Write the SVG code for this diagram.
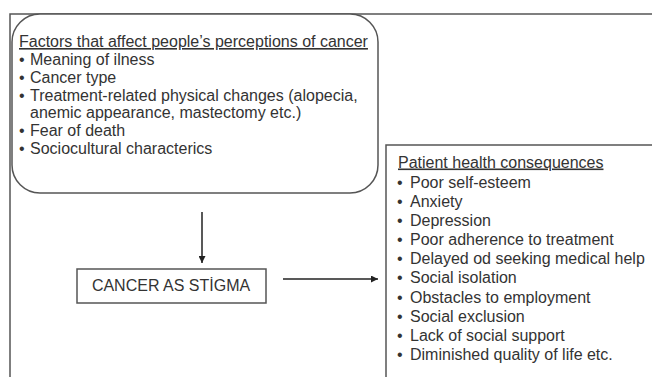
<svg xmlns="http://www.w3.org/2000/svg" width="652" height="377" viewBox="0 0 652 377">
  <style>
    .frame { fill: none; stroke: #555; stroke-width: 1.5; }
    .box { fill: #fff; stroke: #555; stroke-width: 1.5; }
    .txt { font-family: "Liberation Sans", Arial, sans-serif; font-size: 16px; fill: #333; }
    .head { text-decoration: underline; }
    .conn { stroke: #222; stroke-width: 1.5; fill: none; }
  </style>
  <defs>
    <marker id="arrow" viewBox="0 0 10 10" refX="10" refY="5" markerWidth="7" markerHeight="7" markerUnits="userSpaceOnUse" orient="auto">
      <path d="M0,0 L10,5 L0,10 z" fill="#222"/>
    </marker>
  </defs>
  <rect width="652" height="377" fill="#fff"/>

  <!-- outer frame (continues past the page edges) -->
  <path class="frame" d="M10,377 V14 H652"/>

  <g id="factors">
    <rect class="box" x="12" y="14" width="366" height="179" rx="28" ry="28"/>
    <text class="txt head" x="19" y="47">Factors that affect people’s perceptions of cancer</text>
    <g class="txt">
      <text x="19" y="65">•</text><text x="30" y="65">Meaning of ilness</text>
      <text x="19" y="83">•</text><text x="30" y="83">Cancer type</text>
      <text x="19" y="100.5">•</text><text x="30" y="100.5">Treatment-related physical changes (alopecia,</text>
      <text x="30" y="118">anemic appearance, mastectomy etc.)</text>
      <text x="19" y="136">•</text><text x="30" y="136">Fear of death</text>
      <text x="19" y="153.5">•</text><text x="30" y="153.5">Sociocultural characterics</text>
    </g>
  </g>

  <g id="stigma">
    <rect class="box" x="77" y="269" width="189" height="34"/>
    <text class="txt" x="171" y="291" text-anchor="middle">CANCER AS STİGMA</text>
  </g>

  <g id="consequences">
    <path class="box" d="M386,377 V145 H652"/>
    <text class="txt head" x="398" y="167.5">Patient health consequences</text>
    <g class="txt">
      <text x="397" y="187.5">•</text><text x="410" y="187.5">Poor self-esteem</text>
      <text x="397" y="206.7">•</text><text x="410" y="206.7">Anxiety</text>
      <text x="397" y="225.8">•</text><text x="410" y="225.8">Depression</text>
      <text x="397" y="245">•</text><text x="410" y="245">Poor adherence to treatment</text>
      <text x="397" y="264.2">•</text><text x="410" y="264.2">Delayed od seeking medical help</text>
      <text x="397" y="283.3">•</text><text x="410" y="283.3">Social isolation</text>
      <text x="397" y="302.5">•</text><text x="410" y="302.5">Obstacles to employment</text>
      <text x="397" y="321.7">•</text><text x="410" y="321.7">Social exclusion</text>
      <text x="397" y="340.8">•</text><text x="410" y="340.8">Lack of social support</text>
      <text x="397" y="360">•</text><text x="410" y="360">Diminished quality of life etc.</text>
    </g>
  </g>

  <g id="connectors">
    <line class="conn" x1="202" y1="212" x2="202" y2="263" marker-end="url(#arrow)"/>
    <line class="conn" x1="283" y1="279" x2="378" y2="279" marker-end="url(#arrow)"/>
  </g>
</svg>
